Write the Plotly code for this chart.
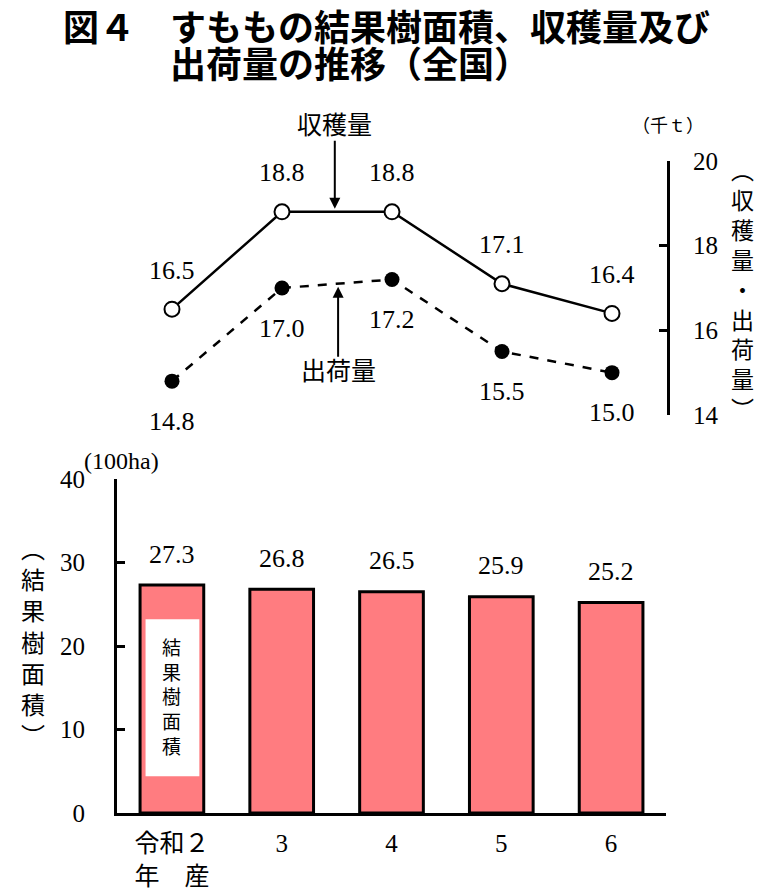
import plotly.graph_objects as go

# ============================================
# DANE
# ============================================

nendo = ["令和２<br>年　産", "3", "4", "5", "6"]
shukaku = [16.5, 18.8, 18.8, 17.1, 16.4]      # 収穫量 (千t)
shukka = [14.8, 17.0, 17.2, 15.5, 15.0]       # 出荷量 (千t)
menseki = [27.3, 26.8, 26.5, 25.9, 25.2]      # 結果樹面積 (100ha)

pos = list(range(len(nendo)))

SERIF = "Liberation Serif, Noto Sans CJK JP"
GOTH = "Noto Sans CJK JP"
BLACK = "#000000"
PINK = "#FF7C80"

# strona ma margines 8 px, więc figura jest o tyle mniejsza
OFF = 8
W, H = 764 - 2 * OFF, 896 - 2 * OFF


def xp(px):
    return (px - OFF) / W


def yp(py):
    return 1 - (py - OFF) / H


fig = go.Figure()

# ============================================
# 結果樹面積 (棒グラフ, 下段)
# ============================================

fig.add_trace(go.Bar(
    x=pos, y=menseki,
    width=0.58,
    marker=dict(color=PINK, line=dict(color=BLACK, width=3)),
    xaxis="x", yaxis="y",
    hoverinfo="skip",
))

# ============================================
# 収穫量・出荷量 (折れ線, 上段)
# ============================================

fig.add_trace(go.Scatter(
    x=pos, y=shukaku,
    mode="lines+markers",
    line=dict(color=BLACK, width=2.5),
    marker=dict(symbol="circle", size=15, color="white",
                line=dict(color=BLACK, width=2)),
    xaxis="x2", yaxis="y2",
    hoverinfo="skip",
))

fig.add_trace(go.Scatter(
    x=pos, y=shukka,
    mode="lines+markers",
    line=dict(color=BLACK, width=2.5, dash="dash"),
    marker=dict(symbol="circle", size=15, color=BLACK),
    xaxis="x2", yaxis="y2",
    hoverinfo="skip",
))

ann = []


def tekst(x, y, text, size, xref="paper", yref="paper", family=SERIF, **kw):
    d = dict(x=x, y=y, xref=xref, yref=yref, text=text, showarrow=False,
             xanchor="center", yanchor="middle",
             font=dict(family=family, size=size, color=BLACK))
    d.update(kw)
    return d


# データラベル
for i, v in enumerate(shukaku):
    ann.append(tekst(i, v, f"{v:.1f}", 26, "x2", "y2", yshift=39))
for i, v in enumerate(shukka):
    ann.append(tekst(i, v, f"{v:.1f}", 26, "x2", "y2", yshift=-40))
for i, v in enumerate(menseki):
    ann.append(tekst(i, v, f"{v:.1f}", 26, "x", "y", yshift=31))

# 凡例の矢印
ann.append(dict(x=1.48, y=(shukaku[1] + shukaku[2]) / 2, xref="x2", yref="y2",
                text="収穫量", showarrow=True, ax=0, ay=-86,
                arrowhead=2, arrowsize=1.1, arrowwidth=2, arrowcolor=BLACK,
                standoff=3,
                font=dict(family=SERIF, size=25, color=BLACK)))
ann.append(dict(x=1.51, y=(shukka[1] + shukka[2]) / 2, xref="x2", yref="y2",
                text="出荷量", showarrow=True, ax=0, ay=88,
                arrowhead=2, arrowsize=1.1, arrowwidth=2, arrowcolor=BLACK,
                standoff=3,
                font=dict(family=SERIF, size=25, color=BLACK)))

# 単位
ann.append(tekst(xp(668), yp(126), "（千ｔ）", 18))
ann.append(tekst(xp(82), yp(461), "(100ha)", 24, xanchor="left"))

# 縦書きの軸タイトル
ann.append(tekst(xp(742), yp(291), "<br>".join("︵収穫量・出荷量︶"), 23))
ann.append(tekst(xp(33), yp(643), "<br>".join("︵結果樹面積︶"), 24))

# 棒の中のラベル
ann.append(tekst(0, 13.8, "<br>".join("結果樹面積"), 19, "x", "y"))

# タイトル
ann.append(tekst(xp(61), yp(25), "<b>図４</b>", 36,
                 family=GOTH, xanchor="left"))
ann.append(tekst(xp(168), yp(25), "<b>すももの結果樹面積、収穫量及び</b>", 36,
                 family=GOTH, xanchor="left"))
ann.append(tekst(xp(168), yp(62), "<b>出荷量の推移（全国）</b>", 36,
                 family=GOTH, xanchor="left"))

fig.update_layout(
    width=W,
    height=H,
    margin=dict(l=0, r=0, t=0, b=0, autoexpand=False),
    paper_bgcolor="white",
    plot_bgcolor="rgba(0,0,0,0)",
    showlegend=False,
    annotations=ann,
    shapes=[dict(type="rect", xref="x", yref="y",
                 x0=-0.24, x1=0.25, y0=4.4, y1=23.2,
                 fillcolor="white", line=dict(width=0), layer="above")],
    xaxis=dict(
        domain=[xp(117), xp(666)],
        range=[-0.5, 4.5],
        tickvals=pos, ticktext=nendo,
        showline=True, linecolor=BLACK, linewidth=3,
        showgrid=False, zeroline=False, ticks="",
        ticklabelstandoff=6,
        tickfont=dict(family=SERIF, size=25, color=BLACK),
        automargin=False,
        anchor="y",
    ),
    yaxis=dict(
        domain=[yp(813), yp(479)],
        range=[0, 40], dtick=10,
        showline=True, linecolor=BLACK, linewidth=3,
        showgrid=False, zeroline=False,
        ticks="inside", ticklen=8, tickwidth=3, tickcolor=BLACK,
        ticklabelstandoff=24,
        tickfont=dict(family=SERIF, size=25, color=BLACK),
        automargin=False,
        anchor="x",
    ),
    xaxis2=dict(
        domain=[xp(117), xp(667)],
        range=[-0.5, 4.5],
        visible=False,
        automargin=False,
        anchor="y2",
    ),
    yaxis2=dict(
        domain=[yp(415), yp(161)],
        range=[14, 20], dtick=2,
        side="right",
        showline=True, linecolor=BLACK, linewidth=3,
        showgrid=False, zeroline=False,
        ticks="inside", ticklen=8, tickwidth=3, tickcolor=BLACK,
        ticklabelstandoff=18,
        tickfont=dict(family=SERIF, size=25, color=BLACK),
        automargin=False,
        anchor="x2",
    ),
)

fig.write_html("out.html", config={"displayModeBar": False})
